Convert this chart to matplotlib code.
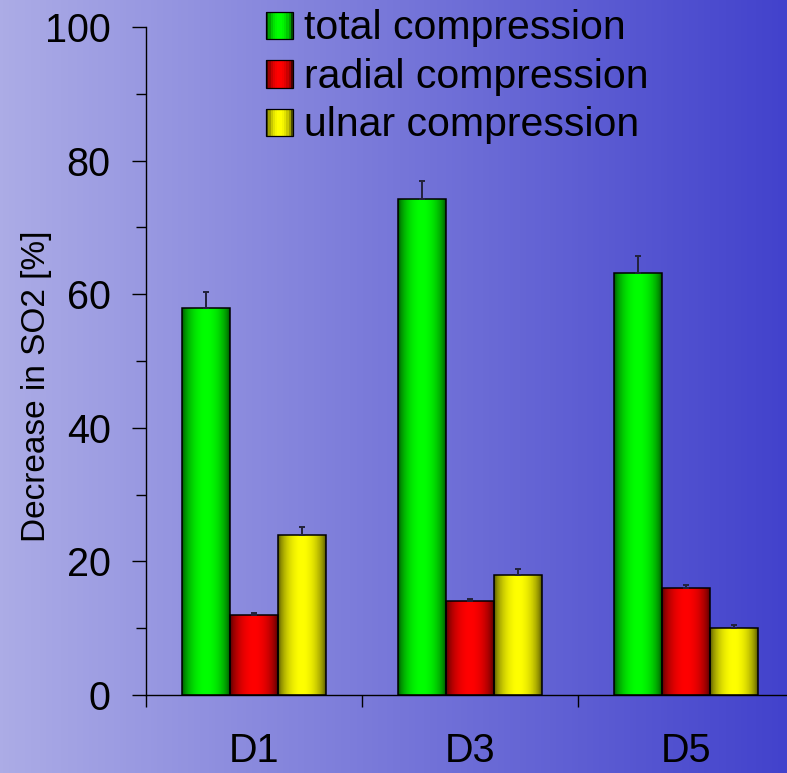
import numpy as np
import matplotlib
matplotlib.use("Agg")
import matplotlib.pyplot as plt
from matplotlib.patches import Rectangle
from matplotlib.colors import to_rgb

# values
GROUPS = ["D1", "D3", "D5"]
SERIES = ["total compression", "radial compression", "ulnar compression"]
TOTAL = [58.0, 74.2, 63.1]
TOTAL_ERR = [2.3, 2.8, 2.6]
RADIAL = [12.0, 14.0, 16.0]
RADIAL_ERR = [0.3, 0.4, 0.5]
ULNAR = [24.0, 18.0, 10.0]
ULNAR_ERR = [1.1, 0.9, 0.5]
COLORS = ["#00ff00", "#ff0000", "#ffff00"]
Y_TICKS = [0, 20, 40, 60, 80, 100]
Y_MINOR = [10, 30, 50, 70, 90]

W, H = 787, 773
plt.rcParams["font.family"] = ["Liberation Sans", "DejaVu Sans"]


def shade(color, n=64):
    """Cylinder-like shading: dark edges, bright middle."""
    t = np.linspace(0, 1, n)
    b = 0.3 + 0.7 * np.sin(np.pi * t) ** 0.6
    return np.clip(np.outer(b, to_rgb(color)), 0, 1)


fig = plt.figure(figsize=(W / 100, H / 100), dpi=100)

# ── background gradient ──────────────────────────────────────────────
bg = fig.add_axes([0, 0, 1, 1], zorder=-1)
c_left = np.array([172, 172, 230]) / 255
c_right = np.array([66, 66, 204]) / 255
t = np.linspace(0, 1, 256)[:, None]
bg.imshow((c_left + (c_right - c_left) * t)[None, :, :], aspect="auto",
          extent=[0, 1, 0, 1])
bg.set_axis_off()

# ── bars ─────────────────────────────────────────────────────────────
ax = fig.add_axes([146 / W, (H - 695) / H, 648 / W, 668 / H])
ax.patch.set_alpha(0)

x = np.arange(len(GROUPS))
bw = 0.222
values = [TOTAL, RADIAL, ULNAR]
errors = [TOTAL_ERR, RADIAL_ERR, ULNAR_ERR]
for i, (vals, errs, color) in enumerate(zip(values, errors, COLORS)):
    pos = x + (i - 1) * bw
    bars = ax.bar(pos, vals, bw, facecolor="none", edgecolor="black",
                  linewidth=1.1, zorder=3)
    for rect in bars:
        x0 = rect.get_x()
        img = ax.imshow(shade(color)[None], aspect="auto", zorder=2,
                        extent=[x0, x0 + rect.get_width(), 0, rect.get_height()])
        img.set_clip_path(rect)
    ax.errorbar(pos, vals, yerr=[np.zeros(len(vals)), errs], fmt="none",
                ecolor="#22223a", elinewidth=1.4, capsize=2.3, capthick=1.4,
                zorder=4)

ax.set_xlim(-0.5, 2.5)
ax.set_ylim(0, 100)

for side in ["top", "right"]:
    ax.spines[side].set_visible(False)
for side in ["left", "bottom"]:
    ax.spines[side].set_linewidth(1.0)
    ax.spines[side].set_color("black")

ax.set_yticks(Y_TICKS)
ax.set_yticks(Y_MINOR, minor=True)
ax.tick_params(axis="y", which="major", direction="out", length=10, width=1,
               pad=15.5, labelsize=28.5)
ax.tick_params(axis="y", which="minor", direction="out", length=7, width=1)

ax.set_xticks([-0.5, 0.5, 1.5, 2.5])
ax.set_xticklabels([])
ax.set_xticks(x, minor=True)
ax.set_xticklabels(GROUPS, minor=True)
ax.tick_params(axis="x", which="major", direction="out", length=8.6, width=1)
ax.tick_params(axis="x", which="minor", length=0, pad=27, labelsize=28.5)

ax.set_ylabel("Decrease in SO2 [%]", fontsize=24, va="center")
ax.yaxis.set_label_coords((37 - 146) / 648, (695 - 386.5) / 668)

# ── legend (drawn by hand so the swatches keep the shading) ──────────
for i, (label, color) in enumerate(zip(SERIES, COLORS)):
    top = 12 + i * 48.5
    cols = shade(color, 12)
    sw = 27 / len(cols)
    for k, c in enumerate(cols):
        fig.patches.append(Rectangle(((266 + k * sw) / W, 1 - (top + 27) / H),
                                     sw / W + 0.0005, 27 / H, facecolor=c,
                                     edgecolor="none",
                                     transform=fig.transFigure))
    fig.patches.append(Rectangle((266 / W, 1 - (top + 27) / H), 27 / W, 27 / H,
                                 facecolor="none", edgecolor="black",
                                 linewidth=0.9, transform=fig.transFigure))
    fig.text(304 / W, 1 - (top + 27) / H, label, fontsize=29.5,
             va="baseline", ha="left")

fig.savefig("out.png", dpi=100)
